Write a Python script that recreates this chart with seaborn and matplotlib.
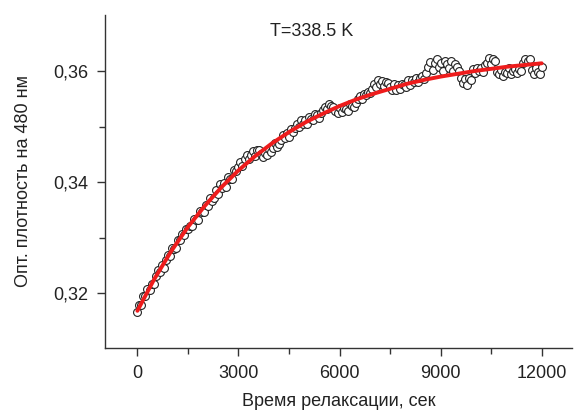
import numpy as np
import pandas as pd
import seaborn as sns
import matplotlib.pyplot as plt

# measured points, one every 60 s
time_s = np.arange(0, 12001, 60)
absorb = [
    0.3165, 0.3179, 0.3179, 0.3194, 0.3194, 0.3208, 0.3205, 0.3217, 0.3217, 0.3231,
    0.3241, 0.3238, 0.3250, 0.3246, 0.3259, 0.3269, 0.3267, 0.3282, 0.3280, 0.3281,
    0.3295, 0.3295, 0.3306, 0.3304, 0.3315, 0.3316,
    0.3321, 0.3320, 0.3333, 0.3331, 0.3332, 0.3348, 0.3346, 0.3346, 0.3359, 0.3357,
    0.3371, 0.3366, 0.3372,
    0.3385, 0.3378, 0.3396, 0.3389, 0.3398, 0.3391, 0.3409, 0.3406, 0.3405, 0.3422,
    0.3420,
    0.3427, 0.3436, 0.3429, 0.3441, 0.3449, 0.3441, 0.3449, 0.3456, 0.3447, 0.3457,
    0.3457,
    0.3450, 0.3445, 0.3452, 0.3448, 0.3459, 0.3454, 0.3461, 0.3471, 0.3463, 0.3469,
    0.3476,
    0.3485, 0.3479, 0.3488, 0.3482, 0.3495, 0.3490, 0.3497,
    0.3504, 0.3499, 0.3511, 0.3505, 0.3511, 0.3505, 0.3517, 0.3514, 0.3511, 0.3523,
    0.3520, 0.3515, 0.3525,
    0.3529, 0.3536, 0.3531, 0.3540, 0.3537, 0.3535,
    0.3528, 0.3525, 0.3534, 0.3526, 0.3533, 0.3532, 0.3528, 0.3540, 0.3537, 0.3536,
    0.3542,
    0.3549, 0.3555, 0.3549, 0.3559, 0.3556, 0.3562, 0.3560,
    0.3568, 0.3577, 0.3572, 0.3583, 0.3576, 0.3582, 0.3573, 0.3581, 0.3578,
    0.3572, 0.3566, 0.3576, 0.3566, 0.3574, 0.3567, 0.3577, 0.3575, 0.3572, 0.3583,
    0.3575, 0.3584, 0.3580, 0.3588, 0.3580, 0.3587, 0.3591, 0.3585,
    0.3597, 0.3608, 0.3616, 0.3602, 0.3614, 0.3622, 0.3607, 0.3614, 0.3601, 0.3619,
    0.3612, 0.3606, 0.3618, 0.3601, 0.3613, 0.3607, 0.3601,
    0.3588, 0.3578, 0.3585, 0.3575, 0.3588, 0.3583,
    0.3603, 0.3597, 0.3606, 0.3600, 0.3606, 0.3598, 0.3611,
    0.3615, 0.3624, 0.3613, 0.3621, 0.3619,
    0.3599, 0.3594, 0.3602, 0.3592, 0.3599, 0.3597, 0.3605, 0.3594, 0.3600, 0.3603,
    0.3597, 0.3603, 0.3600,
    0.3615, 0.3621, 0.3619, 0.3621,
    0.3602, 0.3595, 0.3605, 0.3598, 0.3594, 0.3608,
]

# fitted curve
fit_t = [0, 500, 1000, 1500, 2000, 2500, 3000, 3500, 4000, 4500, 5000, 5500, 6000,
         6500, 7000, 7500, 8000, 8500, 9000, 9500, 10000, 10500, 11000, 11500, 12000]
fit_y = [0.3168, 0.3225, 0.3275, 0.3319, 0.3357, 0.3391, 0.3421, 0.3447, 0.3470,
         0.3490, 0.3508, 0.3523, 0.3537, 0.3549, 0.3559, 0.3568, 0.3577, 0.3584,
         0.3590, 0.3595, 0.3600, 0.3604, 0.3608, 0.3611, 0.3614]

points = pd.DataFrame({'t': time_s, 'od': absorb})
fit = pd.DataFrame({'t': fit_t, 'od': fit_y})

sns.set_style("ticks")
plt.rcParams['font.family'] = ['Liberation Sans', 'DejaVu Sans']
plt.rcParams['font.size'] = 13

fig = plt.figure(figsize=(5.74, 4.17), dpi=100)
ax = fig.add_axes([0.183, 0.1655, 0.8135, 0.7985])

sns.scatterplot(data=points, x='t', y='od', ax=ax, marker='o', s=32,
                facecolor='white', edgecolor='#222222', linewidth=0.8, zorder=2)
sns.lineplot(data=fit, x='t', y='od', ax=ax, color='#ee1c1c', linewidth=2.8, zorder=3)

ax.set_xlim(-960, 12900)
ax.set_ylim(0.3101, 0.3701)
ax.set_xticks([0, 3000, 6000, 9000, 12000])
ax.set_xticks([1500, 4500, 7500, 10500], minor=True)
ax.set_yticks([0.32, 0.34, 0.36])
ax.set_yticks([0.33, 0.35], minor=True)
ax.set_yticklabels(['0,32', '0,34', '0,36'])
ax.tick_params(which='major', length=6, width=1, colors='#333333', labelcolor='#222222',
               labelsize=13, pad=6)
ax.tick_params(which='minor', length=4, width=1, colors='#333333')

for side in ['top', 'right']:
    ax.spines[side].set_visible(False)
for side in ['left', 'bottom']:
    ax.spines[side].set_color('#333333')
    ax.spines[side].set_linewidth(1.0)

ax.set_xlabel('Время релаксации, сек', fontsize=13, color='#222222', labelpad=8)
ax.set_ylabel('Опт. плотность на 480 нм', fontsize=13, color='#222222', labelpad=15)
ax.text(0.443, 0.95, 'T=338.5 K', transform=ax.transAxes, ha='center', va='center',
        fontsize=13, color='#222222')

fig.savefig('out.png', dpi=100)
